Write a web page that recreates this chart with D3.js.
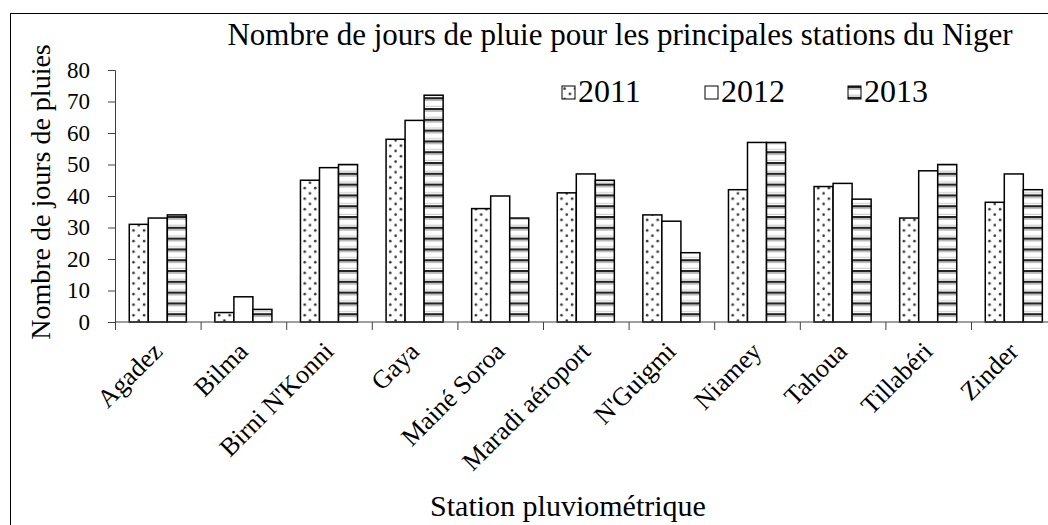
<!DOCTYPE html>
<html lang="fr">
<head>
<meta charset="utf-8">
<title>Jours de pluie - Niger</title>
<script src="https://cdn.jsdelivr.net/npm/d3@7"></script>
<style>
  body { margin: 0; background: #fff; }
  svg { display: block; font-family: "Liberation Serif", "Times New Roman", serif; }
  .axis path, .axis line { stroke: #404040; }
</style>
</head>
<body>
<div id="chart"></div>
<script>
// data
var stations = ["Agadez", "Bilma", "Birni N'Konni", "Gaya", "Mainé Soroa", "Maradi aéroport",
                "N'Guigmi", "Niamey", "Tahoua", "Tillabéri", "Zinder"];
var years = ["2011", "2012", "2013"];
var v2011 = [31, 3, 45, 58, 36, 41, 34, 42, 43, 33, 38];
var v2012 = [33, 8, 49, 64, 40, 47, 32, 57, 44, 48, 47];
var v2013 = [34, 4, 50, 72, 33, 45, 22, 57, 39, 50, 42];
var yTicks = [0, 10, 20, 30, 40, 50, 60, 70, 80];

var series = { "2011": v2011, "2012": v2012, "2013": v2013 };
var fills = { "2011": "url(#dots)", "2012": "#fff", "2013": "url(#stripes)" };

var W = 1048, H = 525;
var margin = { left: 115, top: 70, bottom: 322 };

var svg = d3.select("#chart").append("svg")
    .attr("width", W).attr("height", H);

// patterns
var defs = svg.append("defs");
var dots = defs.append("pattern").attr("id", "dots")
    .attr("patternUnits", "userSpaceOnUse")
    .attr("width", 10.6).attr("height", 10.6);
dots.append("rect").attr("width", 10.6).attr("height", 10.6).attr("fill", "#fff");
dots.append("circle").attr("cx", 2.6).attr("cy", 2.6).attr("r", 1.3).attr("fill", "#333");
dots.append("circle").attr("cx", 7.9).attr("cy", 7.9).attr("r", 1.3).attr("fill", "#333");

var stripes = defs.append("pattern").attr("id", "stripes")
    .attr("patternUnits", "userSpaceOnUse")
    .attr("width", 10).attr("height", 10.8);
stripes.append("rect").attr("width", 10).attr("height", 10.8).attr("fill", "#fff");
stripes.append("rect").attr("y", 0).attr("width", 10).attr("height", 2.2).attr("fill", "#222");
stripes.append("rect").attr("y", 2.2).attr("width", 10).attr("height", 1.6).attr("fill", "#b5b5b5");
stripes.append("rect").attr("y", 8.6).attr("width", 10).attr("height", 1.2).attr("fill", "#d0d0d0");

// chart frame (cropped on the right and bottom)
svg.append("rect")
    .attr("x", 10.5).attr("y", 13.5)
    .attr("width", 1100).attr("height", 600)
    .attr("fill", "none").attr("stroke", "#000").attr("stroke-width", 1);

// scales
var x = d3.scaleBand()
    .domain(stations)
    .range([margin.left, margin.left + 11 * 85.6])
    .padding(0);
var xYear = d3.scaleBand()
    .domain(years)
    .range([0, x.bandwidth()])
    .paddingInner(0)
    .paddingOuter(0.75);
var y = d3.scaleLinear()
    .domain([0, 80])
    .range([margin.bottom, margin.top]);

// bars
var groups = svg.selectAll(".station")
    .data(stations)
  .enter().append("g")
    .attr("class", "station")
    .attr("transform", function(d) { return "translate(" + x(d) + ",0)"; });

groups.selectAll("rect")
    .data(function(d, i) { return years.map(function(yr) { return { year: yr, value: series[yr][i] }; }); })
  .enter().append("rect")
    .attr("x", function(d) { return xYear(d.year); })
    .attr("width", xYear.bandwidth())
    .attr("y", function(d) { return y(d.value); })
    .attr("height", function(d) { return y(0) - y(d.value); })
    .attr("fill", function(d) { return fills[d.year]; })
    .attr("stroke", "#000")
    .attr("stroke-width", 1.5);

// y axis
var yAxis = svg.append("g")
    .attr("class", "axis")
    .attr("transform", "translate(" + margin.left + ",0)")
    .call(d3.axisLeft(y).tickValues(yTicks).tickSize(7).tickSizeOuter(7).tickPadding(18));
yAxis.attr("font-family", "Liberation Serif").attr("font-size", 23);
yAxis.selectAll("text")
    .attr("font-size", "23px")
    .attr("fill", "#000");

// x axis: ticks between categories
var xAxis = svg.append("g")
    .attr("class", "axis")
    .attr("transform", "translate(0," + margin.bottom + ")");
xAxis.append("line")
    .attr("x1", margin.left).attr("x2", W + 20)
    .attr("stroke", "#404040");
xAxis.selectAll(".sep")
    .data(stations)
  .enter().append("line")
    .attr("class", "sep")
    .attr("x1", function(d) { return x(d) + 0.5; })
    .attr("x2", function(d) { return x(d) + 0.5; })
    .attr("y1", 0).attr("y2", 8)
    .attr("stroke", "#404040");

// rotated category labels
xAxis.selectAll(".lbl")
    .data(stations)
  .enter().append("text")
    .attr("class", "lbl")
    .attr("transform", function(d) {
      return "translate(" + (x(d) + x.bandwidth() / 2 + 6) + ",31) rotate(-45)";
    })
    .attr("text-anchor", "end")
    .attr("font-size", "26px")
    .attr("fill", "#000")
    .text(function(d) { return d; });

// titles
svg.append("text")
    .attr("x", 620).attr("y", 45)
    .attr("text-anchor", "middle")
    .attr("font-size", "31px")
    .text("Nombre de jours de pluie pour les principales stations du Niger");

svg.append("text")
    .attr("transform", "translate(50,192) rotate(-90)")
    .attr("text-anchor", "middle")
    .attr("font-size", "28px")
    .text("Nombre de jours de pluies");

svg.append("text")
    .attr("x", 568).attr("y", 516)
    .attr("text-anchor", "middle")
    .attr("font-size", "30px")
    .text("Station pluviométrique");

// legend
var legendX = [562, 705, 848];
var legend = svg.selectAll(".legend")
    .data(years)
  .enter().append("g")
    .attr("class", "legend")
    .attr("transform", function(d, i) { return "translate(" + legendX[i] + ",86)"; });
legend.append("rect")
    .attr("width", 13).attr("height", 13)
    .attr("fill", function(d) { return fills[d]; })
    .attr("stroke", "#000").attr("stroke-width", 1);
legend.append("text")
    .attr("x", 16).attr("y", 15.5)
    .attr("font-size", "32px")
    .text(function(d) { return d; });
</script>
</body>
</html>
